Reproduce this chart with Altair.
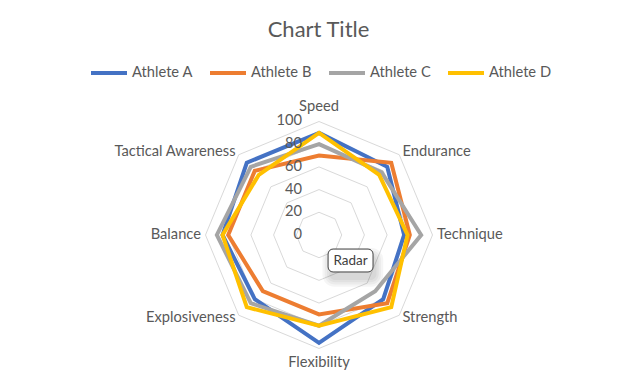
import altair as alt
import pandas as pd

categories = ["Speed", "Endurance", "Technique", "Strength", "Flexibility",
              "Explosiveness", "Balance", "Tactical Awareness"]
series = ["Athlete A", "Athlete B", "Athlete C", "Athlete D"]
athlete_a = [90, 85, 75, 80, 95, 80, 85, 90]
athlete_b = [70, 90, 80, 85, 70, 70, 80, 80]
athlete_c = [80, 78, 90, 70, 80, 85, 90, 85]
athlete_d = [90, 75, 78, 90, 80, 90, 85, 75]
colors = ["#4472C4", "#ED7D31", "#A5A5A5", "#FFC000"]
ticks = [0, 20, 40, 60, 80, 100]
title_text = "Chart Title"
note_text = ["Radar"]

FONT = "Lato"
TXT = "#595959"

rows = []
for s, vals in zip(series, [athlete_a, athlete_b, athlete_c, athlete_d]):
    for i, (c, v) in enumerate(zip(categories, vals)):
        rows.append({"series": s, "category": c, "idx": i, "value": v})
df = pd.DataFrame(rows)

grid_df = pd.DataFrame([{"ring": r, "idx": i} for r in ticks[1:] for i in range(len(categories))])
cat_df = pd.DataFrame({"category": categories, "idx": list(range(len(categories)))})
tick_df = pd.DataFrame({"tick": ticks})
note_df = pd.DataFrame({"text": note_text})

xs = alt.Scale(domain=[-274.0, 273.1], nice=False, zero=False)
ys = alt.Scale(domain=[-122.5, 120.7], nice=False, zero=False)
X = alt.X("px:Q", scale=xs, axis=None)
Y = alt.Y("py:Q", scale=ys, axis=None)

polar = dict(ang="datum.idx*PI/4", px="datum.r*sin(datum.ang)", py="datum.r*cos(datum.ang)")

grid = alt.Chart(grid_df).transform_calculate(r="datum.ring").transform_calculate(**polar).mark_line(
    interpolate="linear-closed", stroke="#D9D9D9", strokeWidth=1
).encode(x=X, y=Y, detail="ring:N", order="idx:Q")

lines = alt.Chart(df).transform_calculate(r="datum.value").transform_calculate(**polar).mark_line(
    interpolate="linear-closed", strokeWidth=4
).encode(
    x=X, y=Y, order="idx:Q",
    color=alt.Color("series:N", scale=alt.Scale(domain=series, range=colors),
                    legend=alt.Legend(orient="none", legendX=81, legendY=-45, direction="horizontal",
                                      columns=4, title=None, symbolType="stroke", symbolSize=1296,
                                      symbolStrokeWidth=4, labelFont=FONT, labelFontSize=14.7,
                                      labelColor=TXT, columnPadding=9, labelOffset=3, padding=0)),
)

def cat_layer(cond, r, align, baseline):
    return alt.Chart(cat_df).transform_filter(cond).transform_calculate(r=str(r)).transform_calculate(**polar).mark_text(
        align=align, baseline=baseline, font=FONT, fontSize=14.7, color=TXT
    ).encode(x=X, y=Y, text="category:N")

lab_left = cat_layer("datum.idx>=1 && datum.idx<=3", 104, "left", "middle")
lab_right = cat_layer("datum.idx>=5", 104, "right", "middle")
lab_mid = cat_layer("datum.idx==0 || datum.idx==4", 113, "center", "middle")

tick_lab = alt.Chart(tick_df).transform_calculate(px="-15", py="datum.tick").mark_text(
    align="right", baseline="middle", font=FONT, fontSize=14.7, color=TXT
).encode(x=X, y=Y, text="tick:Q")

def box(dx, dy, grow, color, opacity, stroke=None):
    m = alt.Chart(note_df).transform_calculate(
        px=str(27.8 - 19.8 - grow + dx), px2=str(27.8 + 19.8 + grow + dx),
        py=str(-22.5 - 10.1 - grow + dy), py2=str(-22.5 + 10.1 + grow + dy))
    kw = dict(fill=color, fillOpacity=opacity, cornerRadius=5 + grow)
    if stroke:
        kw.update(stroke=stroke, strokeWidth=1)
    return m.mark_rect(**kw).encode(x=X, x2="px2:Q", y=Y, y2="py2:Q")

shadows = [box(2, -6, g, "#000000", 0.04) for g in (7, 5, 3, 1)]
note_box = box(0, 0, 0, "#FFFFFF", 1, stroke="#404040")
note_txt = alt.Chart(note_df).transform_calculate(px="27.8", py="-22.5").mark_text(
    align="center", baseline="middle", font=FONT, fontSize=13.5, color="#404040"
).encode(x=X, y=Y, text="text:N")

chart = alt.layer(grid, lines, lab_left, lab_right, lab_mid, tick_lab, *shadows, note_box, note_txt).properties(
    width=621, height=276,
    padding={"top": 90, "left": 0, "right": 0, "bottom": 0},
    autosize="none",
    title=alt.TitleParams(title_text, fontSize=22, font=FONT, color=TXT, fontWeight="normal",
                          anchor="middle", offset=11),
).configure_view(stroke=None)

chart.save("out.html", embed_options={"renderer": "svg", "actions": False})
